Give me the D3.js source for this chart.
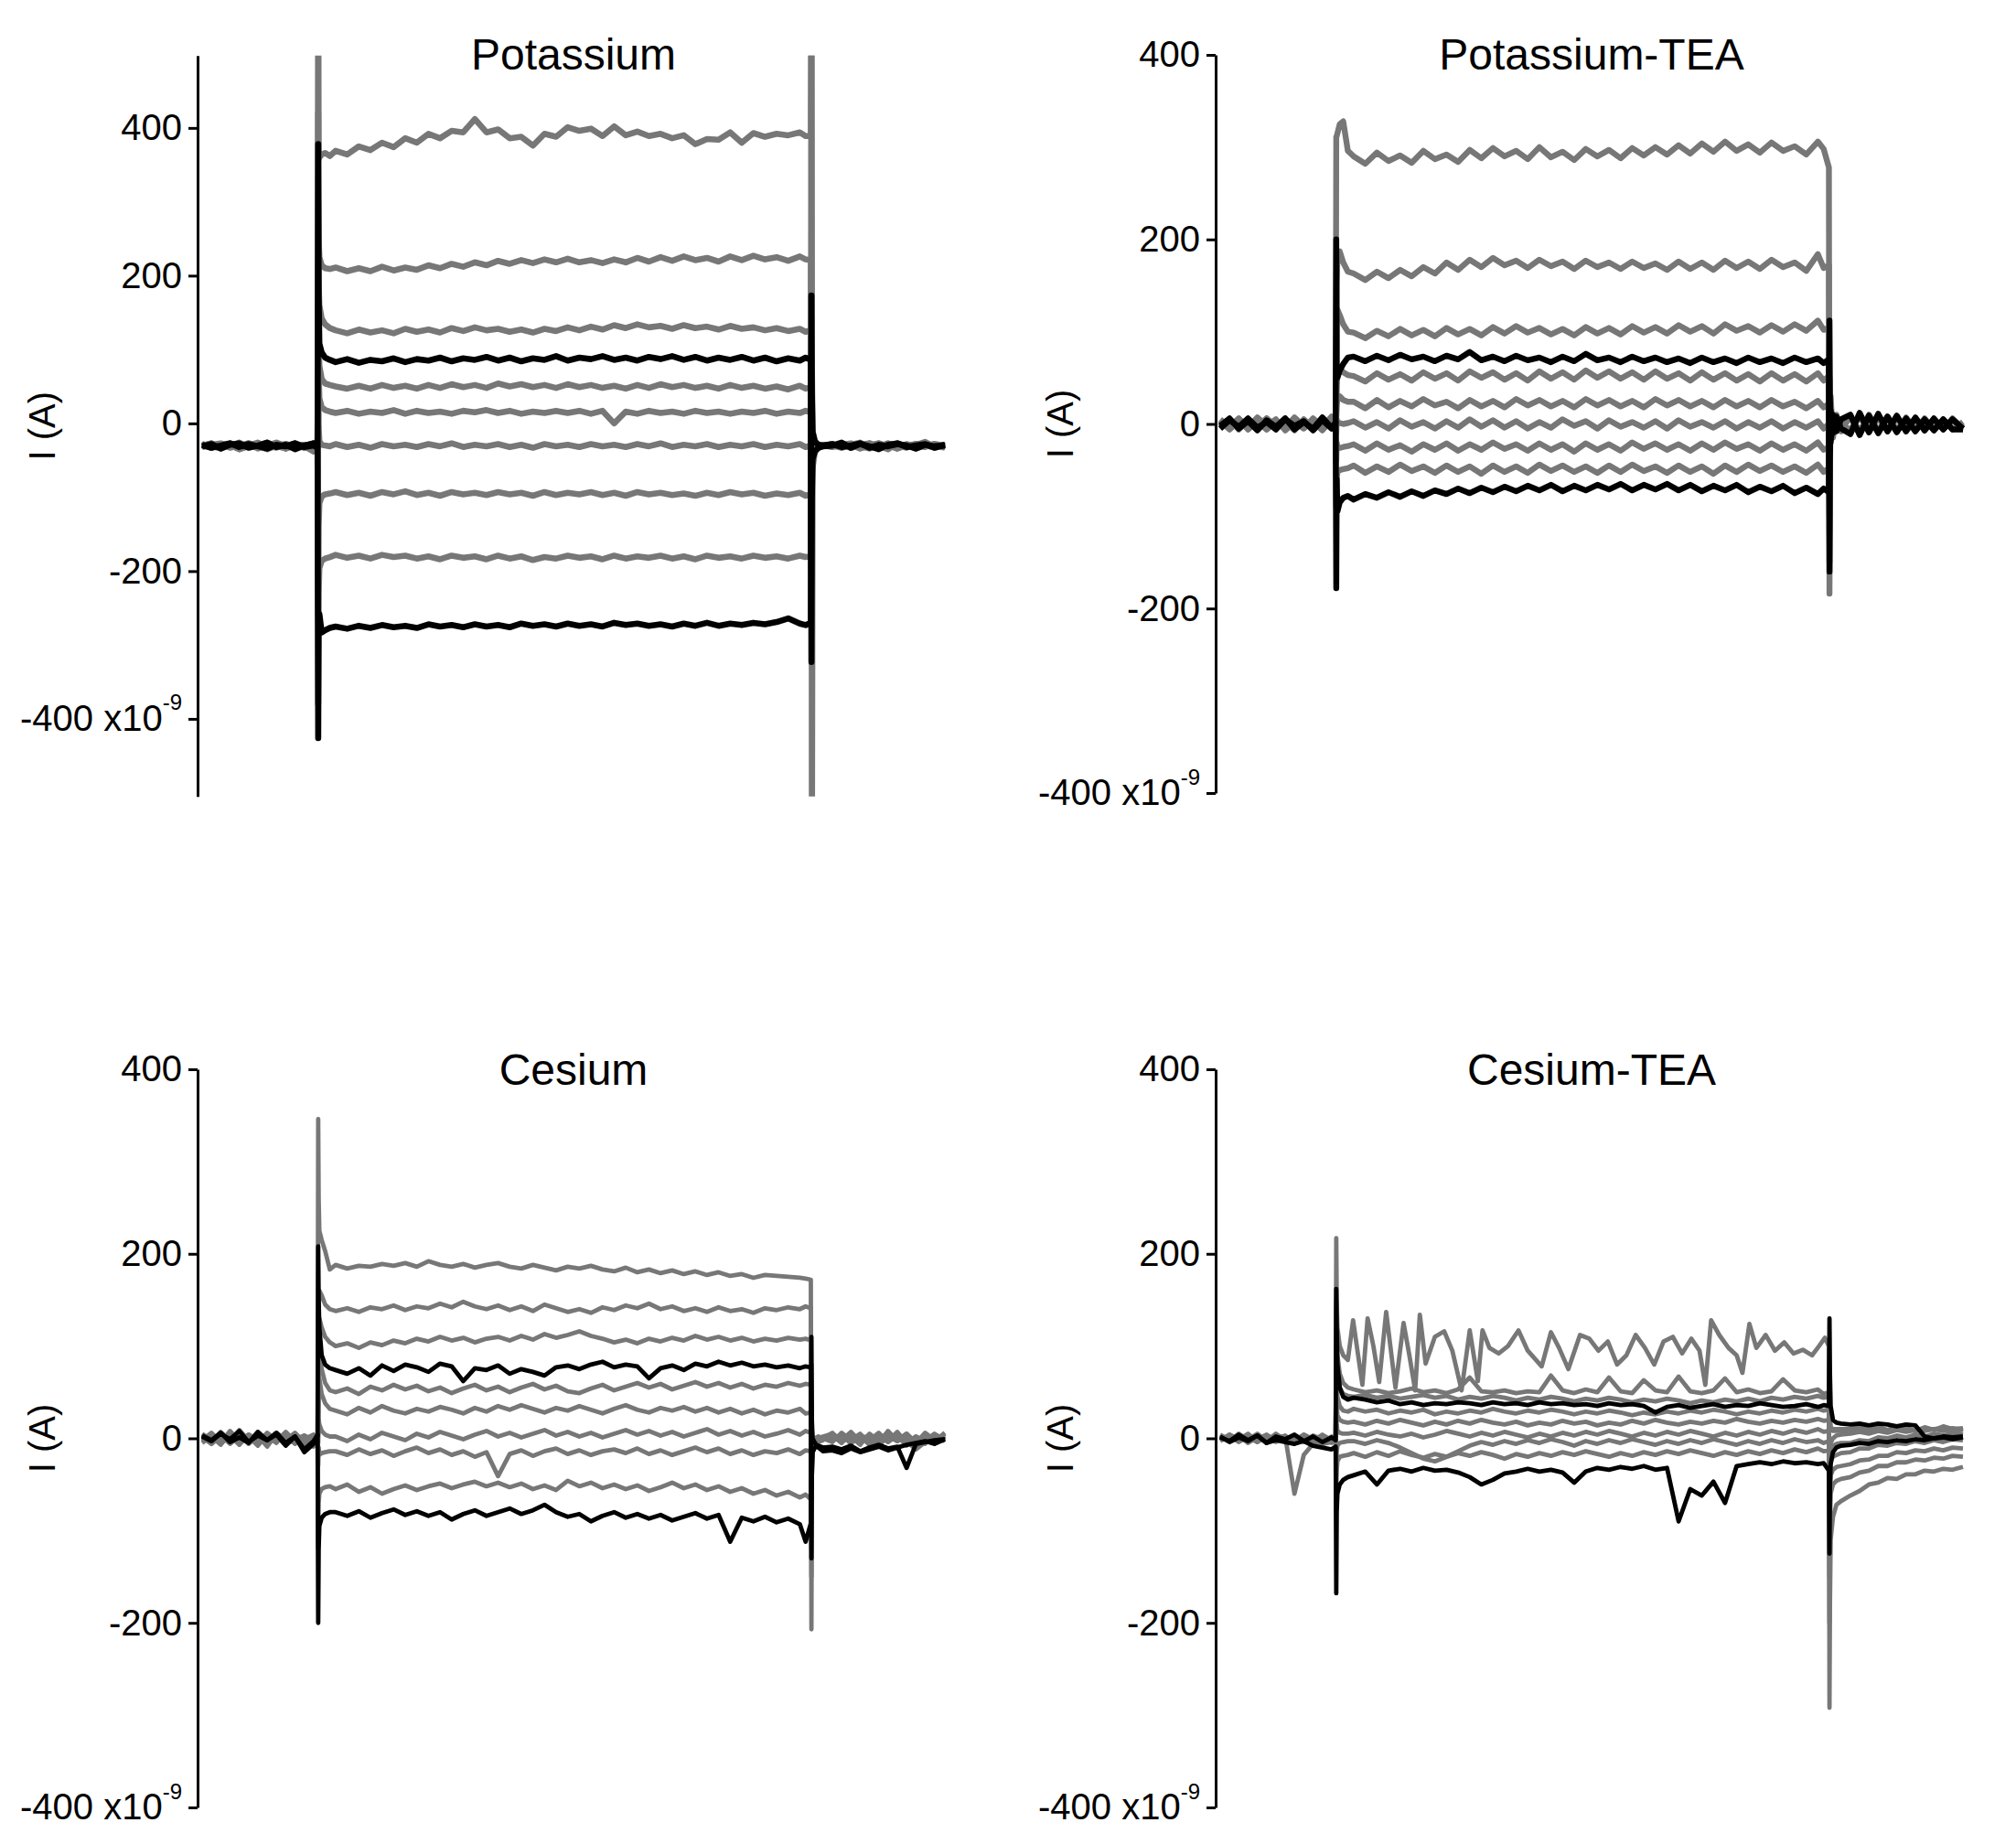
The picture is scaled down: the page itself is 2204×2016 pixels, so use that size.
<!DOCTYPE html>
<html><head><meta charset="utf-8">
<script src="https://cdn.jsdelivr.net/npm/d3@7"></script>
<style>
body{margin:0;background:#fff}
svg{display:block;background:#fff}
</style>
</head><body>
<script>
// ---------------- DATA ----------------
// shared sweep time base (ms)
const sweepTime = [
  0, 8, 16, 24, 32, 40, 48, 56, 64, 72, 80, 88, 96, 99.5,
  100, 100.4, 101, 103, 106, 110,
  115, 125, 135, 145, 155, 165, 175, 185, 195, 205,
  215, 225, 235, 245, 255, 265, 275, 285, 295, 305,
  315, 325, 335, 345, 355, 365, 375, 385, 395, 405,
  415, 425, 435, 445, 455, 465, 475, 485, 495, 505,
  515, 520, 524.5,
  525, 525.4, 526, 528, 531, 535,
  543, 551, 559, 567, 575, 583, 591, 599, 607, 615, 623, 631, 640
];
// own time base for the bursting Cesium-TEA sweep
const cesiumTeaBurstTime = [
  0, 8, 16, 24, 32, 40, 48, 56, 64, 72, 80, 88, 96, 99.5,
  100, 100.4, 101, 103, 106, 110,
  114.5, 122.5, 127, 132, 137, 143, 151, 158, 163, 168,
  172, 177, 185, 193, 200, 208, 215, 222, 226, 232,
  240, 248, 257, 265, 277, 285, 292, 300, 310, 318,
  326, 334, 342, 350, 358, 366, 374, 382, 390, 398,
  406, 413, 418, 423, 430, 438, 445, 450, 456, 462,
  470, 478, 486, 494, 502, 510, 516, 521, 524.5,
  525, 525.4, 526, 528, 531, 535,
  543, 551, 559, 567, 575, 583, 591, 599, 607, 615, 623, 631, 640
];

const yTicks = [-400, -200, 0, 200, 400];
const yTickLabels = ["-400 x10", "-200", "0", "200", "400"];
const yTickExponent = "-9";
const panelTitles = ["Potassium", "Potassium-TEA", "Cesium", "Cesium-TEA"];
const yAxisTitle = "I (A)";
const potassiumYDomain = [-505, 498];
const otherYDomain = [-400, 400];
const sweepDomain = [0, 640];

// values in nA (x10^-9 A)
const potassiumTraces = [
 [-31,-27,-33,-29,-35,-30,-26,-32,-28,-34,-29,-31,-38,-30,
  700,358,360,364,366,362,
  369,364,375,370,380,374,386,380,392,386,
  396,394,412,394,398,386,388,376,392,388,
  401,396,399,389,402,390,395,389,392,386,
  390,378,385,384,394,380,393,388,392,390,
  394,389,390,
  640,-640,-60,-38,-33,-31,
  -28,-33,-29,-26,-32,-30,-35,-27,-31,-29,-25,-32,-30],
 [-29,-33,-28,-31,-26,-32,-30,-34,-28,-31,-27,-33,-30,-29,
  420,250,225,214,210,209,
  211,206,210,206,212,207,211,208,214,210,
  216,212,218,214,220,216,221,217,222,218,
  223,218,221,217,222,218,224,219,225,220,
  226,221,224,219,226,221,227,222,225,220,
  226,222,221,
  -200,-80,-45,-36,-32,-30,
  -31,-28,-33,-29,-27,-32,-30,-34,-28,-31,-29,-33,-30],
 [-30,-27,-33,-29,-32,-28,-34,-30,-26,-31,-29,-33,-28,-31,
  300,190,160,142,134,129,
  126,122,127,123,126,122,128,124,127,123,
  129,125,130,126,128,124,127,123,128,125,
  130,126,131,127,133,129,134,130,132,128,
  133,129,131,127,132,128,130,126,129,125,
  128,124,126,
  -160,-70,-42,-35,-31,-30,
  -28,-32,-29,-34,-30,-27,-31,-29,-33,-28,-30,-32,-29],
 [-31,-28,-34,-29,-27,-33,-30,-26,-32,-29,-35,-30,-27,-31,
  378,170,108,96,89,86,
  83,87,82,86,84,88,83,87,85,89,
  84,88,86,90,85,89,84,88,86,91,
  85,89,87,91,86,89,85,90,87,91,
  86,90,85,89,86,90,85,89,84,88,
  85,89,86,
  -323,-100,-48,-38,-33,-31,
  -30,-26,-33,-28,-31,-35,-29,-27,-32,-30,-28,-33,-29],
 [-29,-32,-28,-33,-30,-27,-31,-34,-29,-32,-28,-30,-33,-29,
  220,120,78,60,54,52,
  50,47,51,47,52,48,51,47,52,48,
  53,49,52,48,54,50,53,49,52,48,
  53,49,52,48,51,47,52,48,53,49,
  52,48,51,47,52,48,51,47,50,46,
  51,47,49,
  -130,-60,-40,-34,-31,-30,
  -31,-28,-33,-30,-27,-32,-29,-34,-30,-28,-31,-29,-32],
 [-28,-31,-34,-29,-32,-27,-30,-33,-28,-31,-29,-32,-27,-30,
  160,70,34,22,18,16,
  14,17,13,16,14,18,13,17,14,16,
  13,17,15,18,14,17,13,16,14,17,
  14,17,13,17,0,16,13,17,14,16,
  13,17,14,16,13,16,14,17,13,16,
  14,17,15,
  -100,-50,-38,-33,-31,-30,
  -32,-29,-27,-31,-34,-30,-28,-32,-29,-31,-27,-30,-33],
 [-30,-33,-29,-27,-32,-28,-31,-35,-30,-28,-32,-29,-31,-28,
  90,-5,-24,-29,-30,-31,
  -28,-32,-29,-33,-28,-31,-29,-32,-28,-31,
  -27,-32,-29,-31,-28,-32,-29,-33,-28,-31,
  -29,-32,-28,-31,-29,-32,-28,-31,-27,-32,
  -29,-31,-28,-32,-29,-31,-28,-32,-29,-31,
  -28,-32,-30,
  -40,-34,-31,-30,-30,-30,
  -29,-31,-28,-32,-30,-27,-33,-29,-31,-28,-30,-32,-29],
 [-32,-29,-27,-31,-33,-28,-30,-26,-31,-34,-29,-30,-27,-32,
  -260,-140,-108,-99,-96,-95,
  -93,-97,-94,-98,-93,-96,-92,-97,-94,-98,
  -93,-96,-94,-97,-93,-96,-94,-98,-93,-97,
  -94,-96,-93,-97,-94,-98,-93,-96,-94,-97,
  -95,-98,-94,-97,-93,-96,-94,-98,-95,-97,
  -94,-98,-96,
  60,-5,-22,-28,-30,-30,
  -30,-33,-28,-31,-29,-34,-30,-27,-31,-29,-32,-28,-30],
 [-30,-28,-32,-29,-35,-31,-27,-30,-33,-28,-31,-29,-32,-30,
  -380,-230,-196,-186,-183,-181,
  -178,-182,-179,-183,-178,-181,-179,-183,-180,-184,
  -179,-182,-180,-184,-179,-183,-180,-185,-181,-183,
  -179,-182,-180,-184,-179,-183,-180,-182,-179,-183,
  -180,-184,-179,-182,-180,-183,-179,-182,-180,-183,
  -179,-181,-180,
  640,80,-10,-24,-29,-30,
  -31,-29,-33,-28,-30,-32,-27,-31,-29,-34,-30,-28,-31],
 [-29,-33,-30,-27,-32,-28,-31,-34,-29,-31,-27,-32,-30,-33,
  -426,-262,-258,-283,-280,-277,
  -275,-278,-274,-277,-273,-276,-274,-277,-272,-275,
  -273,-276,-272,-275,-273,-276,-271,-274,-272,-275,
  -271,-274,-272,-275,-270,-273,-271,-274,-272,-275,
  -271,-274,-270,-274,-271,-273,-270,-272,-269,-264,
  -271,-273,-270,
  173,40,-12,-25,-29,-30,
  -28,-32,-30,-27,-33,-29,-31,-28,-30,-34,-29,-31,-30]
];
const potassiumHighlighted = [3, 9];

const potassiumTeaTraces = [
 [4,-6,3,-4,7,-2,5,-7,2,-5,6,-3,8,-4,
  311,312,315,325,328,296,
  290,282,294,285,291,283,296,287,292,284,
  297,288,299,290,296,287,300,289,295,286,
  298,290,297,288,299,291,300,292,302,293,
  304,295,306,296,303,294,305,296,301,292,
  306,298,278,
  -184,-60,30,-15,10,-8,
  9,-10,8,-9,7,-8,6,-7,6,-6,5,-6,2],
 [-3,5,-6,4,-2,6,-5,3,-7,5,-4,7,-3,2,
  20,150,180,187,175,165,
  163,156,165,158,167,160,170,163,175,167,
  178,170,180,172,177,169,178,171,176,168,
  177,170,175,168,176,169,174,167,176,168,
  175,167,177,169,176,168,178,170,175,166,
  184,169,172,
  -150,-40,20,-10,8,-6,
  -8,10,-9,9,-7,8,-8,6,-7,5,-6,6,-5],
 [5,-3,6,-5,2,-6,4,-4,7,-2,3,-7,5,-1,
  20,110,124,118,108,100,
  99,93,101,95,103,96,102,95,104,97,
  103,96,105,98,106,99,104,97,103,96,
  105,98,104,97,106,99,105,98,107,100,
  106,98,108,101,106,99,107,100,108,101,
  112,102,104,
  -120,-30,15,-8,6,-4,
  8,-9,10,-8,8,-8,7,-6,5,-7,4,-5,-2],
 [-2,6,-5,3,-7,4,-3,6,-6,2,-5,7,-4,1,
  200,60,50,58,65,72,
  73,68,74,69,75,70,73,68,74,70,
  78,69,73,68,74,69,72,67,73,68,
  76,69,72,67,73,68,72,67,71,66,
  72,67,71,66,72,67,71,66,72,67,
  71,66,70,
  -160,-40,15,-10,8,-5,
  -11,12,-9,11,-8,9,-8,7,-7,6,-6,5,-5],
 [2,-5,4,-3,6,-6,3,-2,5,-4,2,-6,4,-3,
  10,40,55,60,56,53,
  52,46,55,48,54,47,56,49,55,47,
  57,50,56,48,55,47,57,49,56,48,
  58,50,57,49,56,48,57,49,55,47,
  56,48,55,47,54,46,55,47,54,46,
  55,47,52,
  -100,-25,12,-7,5,-3,
  7,-8,9,-7,6,-8,5,-6,4,-5,4,-5,-2],
 [-4,3,-2,5,-5,2,-3,6,-4,3,-6,4,-2,3,
  5,20,28,30,26,24,
  24,17,26,18,25,19,27,20,24,17,
  26,19,25,18,27,20,26,19,25,18,
  27,20,26,19,25,18,27,20,26,19,
  25,18,26,19,25,18,26,19,24,17,
  25,18,22,
  -80,-20,10,-6,4,-2,
  -6,8,-7,6,-5,7,-6,5,-5,5,-4,5,-4],
 [3,-4,5,-2,4,-5,2,-3,6,-4,3,-5,2,-2,
  -10,5,2,1,0,1,
  3,-4,2,-5,4,-3,2,-5,3,-4,
  5,-3,4,-4,3,-5,2,-4,5,-2,
  3,-5,4,-3,2,-4,3,-5,4,-3,
  2,-4,3,-5,2,-4,3,-5,2,-4,
  3,-5,0,
  -60,-10,8,-5,3,-2,
  8,-9,7,-8,6,-7,5,-6,5,-5,4,-5,-3],
 [-3,4,-5,2,-4,6,-2,3,-6,4,-3,5,-4,2,
  -40,-20,-25,-26,-25,-24,
  -22,-29,-21,-28,-23,-30,-22,-28,-21,-29,
  -22,-28,-20,-27,-22,-29,-21,-28,-22,-30,
  -21,-28,-22,-29,-20,-27,-21,-28,-22,-29,
  -21,-28,-20,-27,-22,-29,-21,-28,-22,-29,
  -20,-28,-25,
  30,-5,5,-3,2,-1,
  -7,8,-6,7,-8,6,-5,5,-6,4,-5,4,-5],
 [2,-3,5,-6,3,-2,4,-5,6,-3,2,-4,5,-3,
  -90,-60,-52,-50,-49,-48,
  -45,-53,-46,-52,-44,-51,-46,-53,-45,-52,
  -46,-54,-45,-52,-46,-53,-44,-51,-45,-52,
  -46,-53,-45,-52,-44,-51,-46,-53,-45,-52,
  -46,-54,-45,-52,-44,-51,-45,-52,-46,-53,
  -44,-52,-48,
  50,0,6,-4,3,-1,
  6,-7,5,-8,7,-6,5,-5,5,-4,4,-5,-4],
 [-5,4,-3,6,-4,2,-6,5,-2,3,-7,4,-5,2,
  -178,-60,-95,-85,-80,-78,
  -82,-76,-80,-74,-79,-73,-78,-72,-76,-70,
  -75,-69,-74,-68,-73,-67,-72,-66,-73,-67,
  -72,-66,-71,-65,-72,-66,-71,-65,-72,-66,
  -73,-67,-72,-66,-74,-68,-73,-67,-75,-69,
  -76,-70,-74,
  112,30,-20,10,-8,5,
  10,-12,9,-10,8,-9,6,-8,5,-7,5,-6,-6]
];
const potassiumTeaHighlighted = [3, 9];

const cesiumTraces = [
 [3,-4,7,-2,5,-6,2,-3,6,-1,4,-8,-3,5,
  346,260,225,215,203,183,
  188,184,187,186,189,187,190,186,192,188,
  186,189,185,188,190,186,184,188,185,182,
  186,184,187,183,181,185,180,183,179,182,
  178,181,177,180,176,178,174,177,176,175,
  174,173,172,
  -207,-40,-15,-8,-4,-2,
  4,-3,6,-5,2,-8,3,-2,5,-6,4,-3,6],
 [-2,5,-5,8,-3,4,-7,3,-1,6,-4,2,-9,4,
  20,140,160,155,145,140,
  138,141,137,142,140,144,139,143,141,146,
  142,148,143,140,144,139,143,138,145,141,
  137,140,136,142,139,144,141,146,140,143,
  138,141,137,142,138,140,136,141,139,142,
  140,143,141,
  -150,-30,-10,-5,-2,0,
  -4,6,-2,5,-7,3,-3,7,-5,2,-6,4,-1],
 [4,-6,2,-3,7,-5,3,-9,5,-2,6,-4,1,-3,
  15,110,130,120,110,104,
  100,103,98,104,101,106,103,108,105,110,
  106,109,104,108,110,106,111,107,113,109,
  112,116,111,108,104,107,103,108,105,109,
  106,111,107,110,106,109,105,108,106,109,
  107,108,106,
  -120,-25,-8,-3,0,2,
  5,-2,7,-4,3,-6,8,-3,2,-5,6,-2,3],
 [2,-3,5,-1,8,-4,3,-2,6,-5,2,-15,-6,3,
  208,150,120,90,80,76,
  74,70,76,68,79,73,80,77,72,81,
  78,62,76,74,79,70,75,72,68,77,
  79,75,80,83,77,80,78,65,76,79,
  74,81,78,83,79,82,78,80,77,79,
  76,78,77,
  -130,-40,-15,-10,-8,-10,
  -9,-12,-8,-14,-10,-7,-11,-9,-32,-6,-4,-2,-1],
 [-5,3,-2,6,-4,2,-8,4,-3,5,-1,3,-6,2,
  10,80,95,75,60,52,
  50,54,48,56,52,58,53,57,51,55,
  49,54,58,52,56,50,55,59,53,57,
  51,49,54,58,52,56,60,55,59,53,
  57,61,56,60,55,59,54,58,56,60,
  57,59,58,
  -100,-20,-5,0,2,0,
  3,-5,6,-2,4,-7,2,-3,5,-4,3,-6,2],
 [1,-6,4,-3,9,-2,5,-4,2,-7,3,-1,4,-2,
  5,55,65,48,38,32,
  30,26,33,28,35,30,27,32,29,34,
  31,27,33,29,35,31,36,32,28,33,
  30,35,31,27,32,36,31,28,33,30,
  34,29,33,28,32,27,31,26,30,28,
  32,27,28,
  -80,-15,-4,0,1,0,
  -3,5,-6,4,-2,6,-4,3,-8,2,-3,5,-2],
 [-4,2,-7,5,-3,3,-5,6,-2,4,-6,2,-3,4,
  -5,20,15,8,4,2,
  2,-3,4,-1,6,2,-2,5,1,7,
  3,-1,4,8,2,6,1,5,9,3,
  7,2,6,1,5,9,4,8,3,7,
  2,6,10,4,8,3,7,2,5,9,
  4,8,6,
  -50,-10,-2,0,1,0,
  6,-4,2,-7,5,-3,7,-2,4,-6,3,-4,5],
 [5,-2,3,-6,2,-4,7,-3,4,-1,-5,3,-2,-6,
  -30,-10,-18,-16,-15,-14,
  -14,-18,-12,-17,-13,-19,-14,-10,-16,-12,
  -18,-14,-20,-15,-41,-17,-13,-19,-14,-11,
  -17,-13,-18,-14,-12,-16,-11,-17,-13,-18,
  -14,-10,-15,-11,-17,-13,-18,-14,-16,-12,
  -17,-13,-14,
  40,5,-2,0,0,0,
  -2,4,-5,3,-7,2,-4,5,-3,-12,-4,2,-3],
 [-2,6,-4,3,-7,4,-1,2,-5,7,-3,1,-6,3,
  -120,-70,-60,-55,-53,-52,
  -55,-50,-58,-53,-60,-55,-51,-56,-52,-49,
  -54,-50,-47,-52,-48,-53,-49,-55,-51,-56,
  -46,-52,-48,-54,-50,-55,-51,-57,-53,-48,
  -54,-50,-56,-52,-58,-54,-60,-56,-62,-58,
  -64,-61,-66,
  80,10,-3,-1,0,0,
  3,-2,5,-4,2,-6,4,-1,3,-5,2,-3,1],
 [3,-2,6,-4,1,-5,7,-2,4,-8,2,-12,-3,4,
  -200,-120,-95,-86,-82,-80,
  -80,-84,-79,-86,-81,-77,-83,-79,-84,-80,
  -88,-82,-78,-84,-80,-76,-82,-78,-72,-80,
  -85,-82,-90,-84,-80,-86,-82,-87,-83,-89,
  -85,-81,-87,-83,-112,-86,-90,-85,-91,-87,
  -93,-112,-92,
  110,20,0,-5,-10,-14,
  -13,-16,-11,-15,-12,-9,-13,-10,-7,-5,-3,-6,-1]
];
const cesiumHighlighted = [3, 9];

const cesiumTeaTraces = [
 // bursting sweep, on cesiumTeaBurstTime
 [2,-3,5,-2,4,-4,3,-1,-5,2,-3,4,-2,1,
  217,150,120,100,90,85,
  128,58,130,100,61,137,55,125,90,52,
  134,81,110,116,95,52,117,62,117,98,
  92,100,117,95,78,115,98,75,112,108,
  95,105,80,90,112,98,80,105,110,92,
  108,95,58,128,112,98,90,71,124,98,
  112,95,104,92,96,90,100,109,100,
  -292,-180,-110,-85,-72,-68,
  -62,-57,-50,-48,-43,-44,-39,-39,-35,-36,-33,-34,-31],
 [-3,4,-1,5,-4,2,-2,3,-6,4,-1,-5,2,-3,
  150,120,90,70,60,55,
  53,50,52,49,51,54,50,52,49,53,
  66,51,50,52,49,51,50,68,52,49,
  53,50,66,51,49,63,52,50,67,51,
  49,52,65,50,53,49,51,64,52,50,
  53,48,50,
  -200,-100,-60,-50,-46,-44,
  -42,-37,-35,-30,-30,-26,-26,-23,-24,-21,-22,-19,-20],
 [4,-2,3,-5,1,-3,5,-2,2,-4,3,-1,-4,2,
  140,100,70,55,48,46,
  45,47,44,46,43,45,47,44,46,42,
  45,43,46,44,41,44,42,45,43,40,
  43,41,44,42,39,42,40,43,41,38,
  41,39,42,40,43,40,44,42,45,43,
  46,44,45,
  -150,-70,-40,-34,-31,-30,
  -28,-24,-23,-19,-19,-15,-16,-13,-14,-11,-13,-10,-11],
 [1,-3,4,-2,3,-5,2,-1,4,-3,2,-4,1,-2,
  162,120,80,55,45,42,
  44,42,39,41,37,39,36,38,37,39,
  38,36,39,37,38,36,39,37,38,36,
  37,35,38,36,37,35,28,34,36,33,
  35,37,34,36,35,38,36,34,35,37,
  34,36,35,
  130,70,35,20,17,16,
  15,16,14,16,15,13,15,14,2,0,1,-1,1],
 [-2,3,-4,2,-1,4,-3,1,-2,3,-5,2,-1,3,
  120,70,45,35,30,29,
  32,29,31,27,30,28,31,26,29,27,
  30,28,32,29,27,30,28,31,29,26,
  29,27,30,28,25,28,26,29,27,30,
  28,31,29,26,29,27,30,28,31,29,
  32,30,31,
  -120,-50,-25,-20,-18,-16,
  -15,-11,-11,-7,-8,-5,-6,-3,-5,-2,-4,-1,-2],
 [3,-1,2,-4,4,-2,1,-3,3,-2,2,-6,-3,1,
  80,40,25,20,18,17,
  18,15,19,16,20,17,14,18,15,19,
  16,20,17,15,18,14,17,15,19,16,
  18,14,17,15,19,16,20,17,15,18,
  16,19,17,21,18,16,19,17,20,18,
  21,19,20,
  -90,-30,-12,-8,-6,-5,
  -5,-2,-3,1,0,3,1,4,2,5,3,6,4],
 [-1,2,-3,4,-2,3,-4,2,-1,3,-2,1,-5,2,
  30,15,8,6,5,5,
  6,3,7,4,2,5,1,4,8,5,
  2,6,3,7,4,1,5,2,6,3,
  7,4,8,5,2,6,3,7,4,8,
  5,2,6,3,7,4,8,5,9,6,
  10,7,8,
  -60,-20,-5,0,3,4,
  5,7,5,8,6,9,7,9,8,10,8,11,9],
 [3,-2,4,-1,5,-3,2,2,-60,-18,-6,1,-2,0,
  -40,-15,-8,-5,-4,-3,
  -3,-6,-2,-5,-10,-16,-22,-25,-20,-14,
  -8,-4,-7,-3,-6,-2,-5,-1,-4,-8,
  -3,-6,-2,-5,-1,-4,-7,-3,-6,-2,
  -5,-1,-4,-7,-3,-6,-2,-5,-1,-4,
  -2,-5,-3,
  60,20,10,8,8,8,
  8,10,7,11,8,9,11,8,9,10,11,7,10],
 [-2,4,-3,1,-4,3,-1,2,-3,4,-2,-6,-4,-1,
  -60,-35,-25,-20,-19,-18,
  -16,-20,-15,-19,-14,-18,-21,-17,-20,-16,
  -19,-15,-18,-22,-17,-20,-16,-19,-15,-18,
  -14,-17,-20,-16,-19,-15,-18,-14,-17,-13,
  -16,-19,-15,-18,-14,-17,-13,-16,-12,-15,
  -11,-14,-13,
  50,20,12,10,10,10,
  10,13,9,12,9,13,10,8,12,9,13,10,11],
 [2,-4,1,-3,3,-5,-2,-4,-6,-3,-8,-10,-12,-9,
  -168,-80,-60,-50,-45,-42,
  -40,-36,-50,-35,-33,-36,-32,-35,-34,-37,
  -42,-50,-45,-38,-36,-33,-36,-34,-37,-48,
  -36,-32,-34,-31,-33,-30,-34,-32,-90,-55,
  -62,-47,-70,-30,-28,-26,-28,-25,-27,-26,
  -28,-27,-35,
  -125,-50,-28,-15,-10,-8,
  -7,-5,-6,-3,-4,-2,-3,-1,-2,0,2,1,2]
];
const cesiumTeaHighlighted = [3, 9];

// ---------------- DRAWING ----------------
const W = 2204, H = 2016;
const FONT = '"Liberation Sans", Arial, Helvetica, sans-serif';
const svg = d3.select("body").append("svg").attr("width", W).attr("height", H);
svg.append("rect").attr("width", W).attr("height", H).attr("fill", "#fff");

const panels = [
  {title: panelTitles[0], traces: potassiumTraces, hi: potassiumHighlighted, yDomain: potassiumYDomain,
   axisX: 216, yRange: [870.7, 60.7], titleY: 76, stroke: 6.6, times: {}},
  {title: panelTitles[1], traces: potassiumTeaTraces, hi: potassiumTeaHighlighted, yDomain: otherYDomain,
   axisX: 1329, yRange: [867, 60], titleY: 76, stroke: 6.4, times: {}},
  {title: panelTitles[2], traces: cesiumTraces, hi: cesiumHighlighted, yDomain: otherYDomain,
   axisX: 216, yRange: [1976, 1169], titleY: 1186, stroke: 4.8, times: {}},
  {title: panelTitles[3], traces: cesiumTeaTraces, hi: cesiumTeaHighlighted, yDomain: otherYDomain,
   axisX: 1329, yRange: [1976, 1169], titleY: 1186, stroke: 4.8, times: {0: cesiumTeaBurstTime}}
];

const GRAY = "#777777", BLACK = "#000000";

panels.forEach((p, pi) => {
  const g = svg.append("g");
  const x = d3.scaleLinear().domain(sweepDomain).range([p.axisX + 5, p.axisX + 817]);
  const y = d3.scaleLinear().domain(p.yDomain).range(p.yRange);

  const clipId = "clip" + pi;
  svg.append("defs").append("clipPath").attr("id", clipId)
    .append("rect")
    .attr("x", p.axisX + 2).attr("y", p.yRange[1])
    .attr("width", 840).attr("height", p.yRange[0] - p.yRange[1]);

  const line = d3.line().x(d => x(d[0])).y(d => y(d[1]));
  const tg = g.append("g").attr("clip-path", `url(#${clipId})`);

  const order = p.traces.map((_, i) => i).filter(i => !p.hi.includes(i)).concat(p.hi);
  order.forEach(i => {
    const vals = p.traces[i];
    const t = p.times[i] || sweepTime;
    const n = Math.min(vals.length, t.length);
    const pts = [];
    for (let k = 0; k < n; k++) pts.push([t[k], vals[k]]);
    tg.append("path")
      .attr("d", line(pts))
      .attr("fill", "none")
      .attr("stroke", p.hi.includes(i) ? BLACK : GRAY)
      .attr("stroke-width", p.stroke)
      .attr("stroke-linejoin", "round")
      .attr("stroke-linecap", "butt");
  });

  // axis
  const axis = d3.axisLeft(y).tickValues(yTicks).tickSize(10).tickSizeOuter(0).tickPadding(7)
    .tickFormat((d, i) => yTickLabels[i]);
  const ag = g.append("g").attr("transform", `translate(${p.axisX},0)`).call(axis);
  ag.attr("font-family", FONT).attr("font-size", 40);
  ag.select(".domain").attr("stroke", "#000").attr("stroke-width", 3);
  ag.selectAll(".tick line").attr("stroke", "#000").attr("stroke-width", 3);
  ag.selectAll(".tick text").attr("fill", "#000").each(function(d, i) {
    if (i === 0) {
      const t = d3.select(this);
      t.text(null);
      t.append("tspan").text(yTickLabels[0]);
      t.append("tspan").attr("font-size", 24).attr("dy", "-0.95em").text(yTickExponent);
    }
  });

  // y title
  const midY = (p.yRange[0] + p.yRange[1]) / 2;
  g.append("text")
    .attr("transform", `translate(${p.axisX - 170},${midY}) rotate(-90)`)
    .attr("text-anchor", "middle").attr("dominant-baseline", "central")
    .attr("font-family", FONT).attr("font-size", 40).attr("fill", "#000")
    .text(yAxisTitle);

  // panel title
  g.append("text")
    .attr("x", p.axisX + 411).attr("y", p.titleY)
    .attr("text-anchor", "middle")
    .attr("font-family", FONT).attr("font-size", 48).attr("fill", "#000")
    .text(p.title);
});
</script>
</body></html>
